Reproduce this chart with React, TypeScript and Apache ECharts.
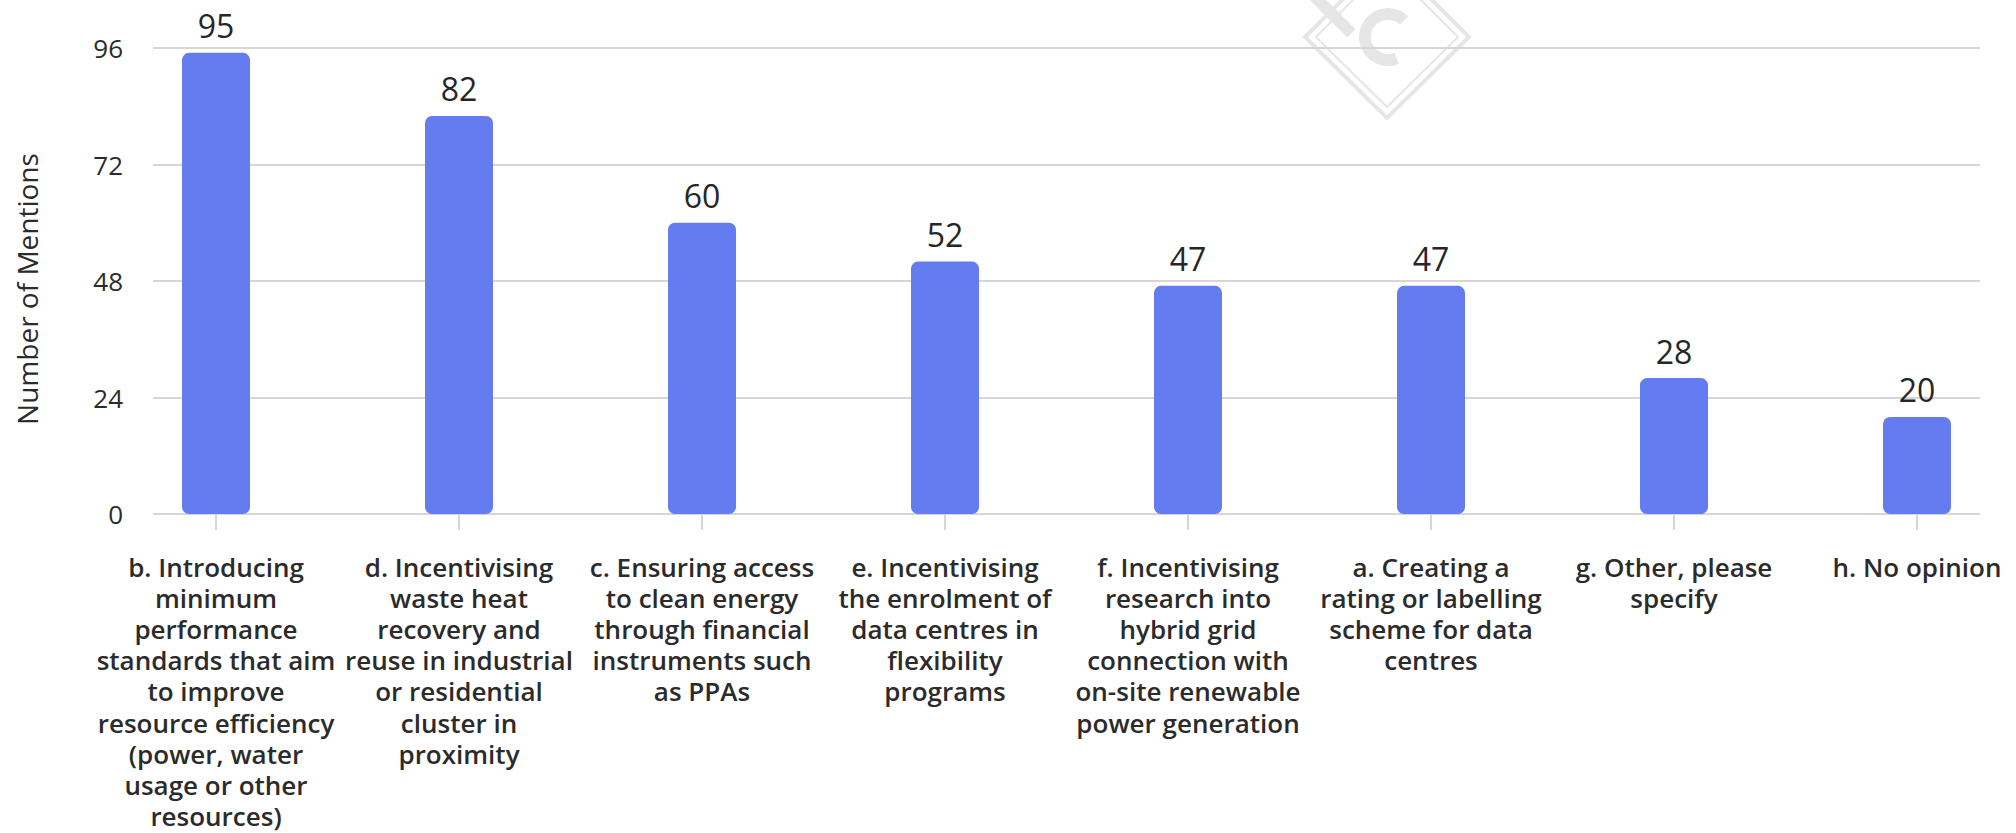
import React, { useEffect, useRef } from "react";
import * as echarts from "echarts";

const categories: string[] = [
  "b. Introducing\nminimum\nperformance\nstandards that aim\nto improve\nresource efficiency\n(power, water\nusage or other\nresources)",
  "d. Incentivising\nwaste heat\nrecovery and\nreuse in industrial\nor residential\ncluster in\nproximity",
  "c. Ensuring access\nto clean energy\nthrough financial\ninstruments such\nas PPAs",
  "e. Incentivising\nthe enrolment of\ndata centres in\nflexibility\nprograms",
  "f. Incentivising\nresearch into\nhybrid grid\nconnection with\non-site renewable\npower generation",
  "a. Creating a\nrating or labelling\nscheme for data\ncentres",
  "g. Other, please\nspecify",
  "h. No opinion",
];

const mentions: number[] = [95, 82, 60, 52, 47, 47, 28, 20];

const yAxisTitle = "Number of Mentions";
const yMin = 0;
const yMax = 96;
const yInterval = 24;

const FONT = "'Open Sans', 'Noto Sans', sans-serif";

export default function App() {
  const ref = useRef<HTMLDivElement>(null);

  useEffect(() => {
    if (!ref.current) return;
    const chart = echarts.init(ref.current, undefined, { renderer: "svg" });
    const wm = "#e6e6e6";
    const grid0 = { top: 48, height: 466 };
    chart.setOption({
      animation: false,
      backgroundColor: "#ffffff",
      textStyle: { fontFamily: FONT },
      grid: [
        { left: 153, right: 36, ...grid0, outerBoundsMode: "none", containLabel: false },
        { left: 94.5, width: 1944, ...grid0, outerBoundsMode: "none", containLabel: false },
      ],
      xAxis: [
        { gridIndex: 0, type: "value", show: false, min: 0, max: 1 },
        {
          gridIndex: 1,
          type: "category",
          data: categories,
          boundaryGap: true,
          axisLine: { show: false },
          axisTick: {
            show: true,
            alignWithLabel: true,
            length: 16,
            lineStyle: { color: "#d6d6d6", width: 2 },
          },
          axisLabel: {
            interval: 0,
            margin: 37,
            fontSize: 26,
            lineHeight: 31.2,
            fontWeight: 600,
            color: "#2b2b2b",
            fontFamily: FONT,
            align: "center",
          },
        },
      ],
      yAxis: [
        {
          gridIndex: 0,
          type: "value",
          min: yMin,
          max: yMax,
          interval: yInterval,
          axisLine: { show: false },
          axisTick: { show: false },
          axisLabel: { fontSize: 26, color: "#2b2b2b", margin: 30, fontFamily: FONT },
          splitLine: { show: true, lineStyle: { color: "#d6d6d6", width: 2 } },
          name: yAxisTitle,
          nameLocation: "middle",
          nameGap: 112,
          nameRotate: 90,
          nameTextStyle: {
            fontSize: 28,
            color: "#2b2b2b",
            fontFamily: FONT,
            padding: [0, 16, 0, 0],
          },
        },
        { gridIndex: 1, type: "value", min: yMin, max: yMax, show: false },
      ],
      series: [
        {
          type: "bar",
          xAxisIndex: 1,
          yAxisIndex: 1,
          data: mentions,
          barWidth: 68,
          itemStyle: { color: "#647cf0", borderRadius: 7 },
          label: {
            show: true,
            position: "top",
            distance: 11,
            fontSize: 32,
            fontWeight: 500,
            color: "#262626",
            fontFamily: FONT,
          },
        },
      ],
      graphic: [
        {
          type: "polygon",
          z: -1,
          shape: { points: [[1387, -45], [1469, 37], [1387, 118], [1305, 37]] },
          style: { fill: "none", stroke: wm, lineWidth: 4 },
        },
        {
          type: "polygon",
          z: -1,
          shape: { points: [[1387, -34], [1458, 37], [1387, 107], [1316, 37]] },
          style: { fill: "none", stroke: wm, lineWidth: 2 },
        },
        {
          type: "arc",
          z: -1,
          shape: {
            cx: 1388,
            cy: 37,
            r: 23,
            startAngle: (68 * Math.PI) / 180,
            endAngle: (314 * Math.PI) / 180,
            clockwise: true,
          },
          style: { fill: "none", stroke: wm, lineWidth: 12 },
        },
        {
          type: "rect",
          z: -1,
          x: 1333,
          y: 15,
          rotation: -Math.PI / 4,
          shape: { x: -26, y: -6, width: 52, height: 12 },
          style: { fill: wm },
        },
      ],
    });
    return () => chart.dispose();
  }, []);

  return (
    <div
      ref={ref}
      style={{ position: "fixed", left: 0, top: 0, width: 2016, height: 833 }}
    />
  );
}
